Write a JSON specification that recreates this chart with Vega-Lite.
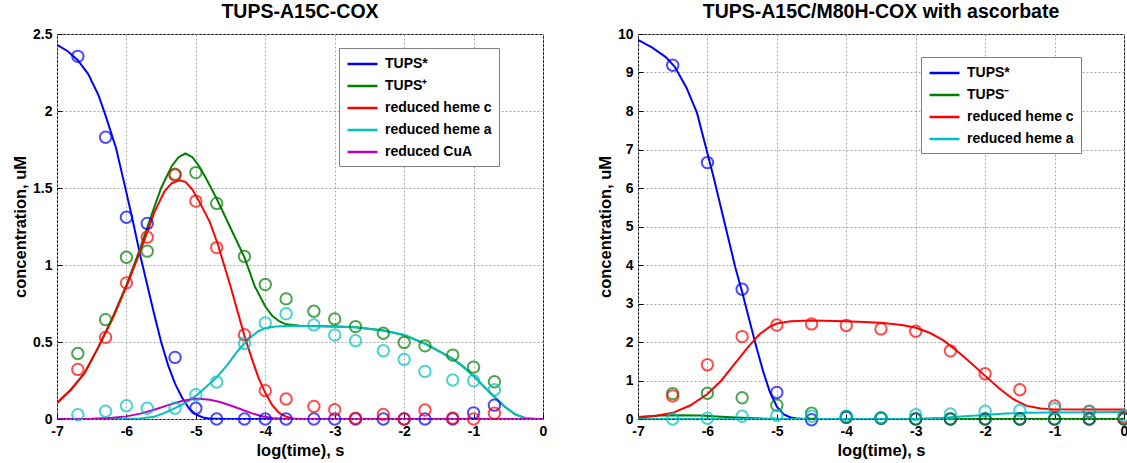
{
  "$schema": "https://vega.github.io/schema/vega-lite/v6.json",
  "background": "white",
  "padding": {"left": 12, "top": 1, "right": 0, "bottom": 0},
  "spacing": 48,
  "config": {
    "font": "Liberation Sans",
    "view": {"stroke": "black", "strokeWidth": 1},
    "axis": {
      "labelFont": "Liberation Sans", "labelFontWeight": "bold", "labelFontSize": 14, "labelColor": "black",
      "titleFont": "Liberation Sans", "titleFontWeight": "bold", "titleFontSize": 16.5, "titleColor": "black",
      "grid": true, "gridDash": [2, 2], "gridColor": "#a8a8a8", "gridWidth": 1,
      "domain": false, "ticks": true, "tickSize": -5, "tickColor": "black", "labelPadding": 10, "titlePadding": 4, "labelFlush": false, "labelOverlap": false
    },
    "title": {"font": "Liberation Sans", "fontSize": 19.5, "fontWeight": "bold", "color": "black", "offset": 5},
    "legend": {
      "orient": "none", "title": null, "symbolType": "M-1,0H3", "symbolStrokeWidth": 2.5, "symbolSize": 225,
      "labelFont": "Liberation Sans", "labelFontSize": 14, "labelFontWeight": "bold", "labelColor": "black",
      "strokeColor": "#808080", "fillColor": "white", "padding": 7, "rowPadding": 6, "labelOffset": 21
    }
  },
  "resolve": {"scale": {"color": "independent", "stroke": "independent"}, "legend": {"color": "independent"}},
  "datasets": {
    "lc": [
      {"x": -7, "y": 2.43, "s": "TUPS*"}, {"x": -6.85, "y": 2.39, "s": "TUPS*"}, {"x": -6.7, "y": 2.33, "s": "TUPS*"}, {"x": -6.55, "y": 2.24, "s": "TUPS*"}, {"x": -6.4, "y": 2.1, "s": "TUPS*"}, {"x": -6.3, "y": 1.97, "s": "TUPS*"}, {"x": -6.15, "y": 1.76, "s": "TUPS*"}, {"x": -6.0, "y": 1.47, "s": "TUPS*"}, {"x": -5.9, "y": 1.27, "s": "TUPS*"}, {"x": -5.8, "y": 1.06, "s": "TUPS*"}, {"x": -5.7, "y": 0.87, "s": "TUPS*"}, {"x": -5.6, "y": 0.68, "s": "TUPS*"}, {"x": -5.5, "y": 0.5, "s": "TUPS*"}, {"x": -5.4, "y": 0.35, "s": "TUPS*"}, {"x": -5.3, "y": 0.23, "s": "TUPS*"}, {"x": -5.2, "y": 0.14, "s": "TUPS*"}, {"x": -5.1, "y": 0.07, "s": "TUPS*"}, {"x": -5.0, "y": 0.03, "s": "TUPS*"}, {"x": -4.9, "y": 0.01, "s": "TUPS*"}, {"x": -4.8, "y": 0.003, "s": "TUPS*"}, {"x": -4.6, "y": 0, "s": "TUPS*"}, {"x": 0, "y": 0, "s": "TUPS*"},
      {"x": -7, "y": 0.104, "s": "TUPS⁺"}, {"x": -6.8, "y": 0.19, "s": "TUPS⁺"}, {"x": -6.6, "y": 0.3, "s": "TUPS⁺"}, {"x": -6.4, "y": 0.47, "s": "TUPS⁺"}, {"x": -6.2, "y": 0.66, "s": "TUPS⁺"}, {"x": -6.0, "y": 0.87, "s": "TUPS⁺"}, {"x": -5.8, "y": 1.11, "s": "TUPS⁺"}, {"x": -5.65, "y": 1.31, "s": "TUPS⁺"}, {"x": -5.5, "y": 1.5, "s": "TUPS⁺"}, {"x": -5.35, "y": 1.64, "s": "TUPS⁺"}, {"x": -5.25, "y": 1.7, "s": "TUPS⁺"}, {"x": -5.15, "y": 1.724, "s": "TUPS⁺"}, {"x": -5.05, "y": 1.7, "s": "TUPS⁺"}, {"x": -4.95, "y": 1.64, "s": "TUPS⁺"}, {"x": -4.85, "y": 1.56, "s": "TUPS⁺"}, {"x": -4.7, "y": 1.43, "s": "TUPS⁺"}, {"x": -4.5, "y": 1.24, "s": "TUPS⁺"}, {"x": -4.3, "y": 1.05, "s": "TUPS⁺"}, {"x": -4.15, "y": 0.86, "s": "TUPS⁺"}, {"x": -4.0, "y": 0.73, "s": "TUPS⁺"}, {"x": -3.9, "y": 0.67, "s": "TUPS⁺"}, {"x": -3.8, "y": 0.635, "s": "TUPS⁺"}, {"x": -3.7, "y": 0.615, "s": "TUPS⁺"}, {"x": -3.5, "y": 0.605, "s": "TUPS⁺"}, {"x": -3.0, "y": 0.6, "s": "TUPS⁺"}, {"x": -2.7, "y": 0.595, "s": "TUPS⁺"}, {"x": -2.3, "y": 0.575, "s": "TUPS⁺"}, {"x": -2.0, "y": 0.545, "s": "TUPS⁺"}, {"x": -1.7, "y": 0.49, "s": "TUPS⁺"}, {"x": -1.5, "y": 0.44, "s": "TUPS⁺"}, {"x": -1.3, "y": 0.39, "s": "TUPS⁺"}, {"x": -1.15, "y": 0.34, "s": "TUPS⁺"}, {"x": -1.0, "y": 0.28, "s": "TUPS⁺"}, {"x": -0.85, "y": 0.21, "s": "TUPS⁺"}, {"x": -0.7, "y": 0.145, "s": "TUPS⁺"}, {"x": -0.55, "y": 0.08, "s": "TUPS⁺"}, {"x": -0.4, "y": 0.03, "s": "TUPS⁺"}, {"x": -0.25, "y": 0.005, "s": "TUPS⁺"}, {"x": -0.1, "y": 0, "s": "TUPS⁺"}, {"x": 0, "y": 0, "s": "TUPS⁺"},
      {"x": -7, "y": 0.104, "s": "reduced heme c"}, {"x": -6.8, "y": 0.19, "s": "reduced heme c"}, {"x": -6.6, "y": 0.3, "s": "reduced heme c"}, {"x": -6.4, "y": 0.47, "s": "reduced heme c"}, {"x": -6.2, "y": 0.65, "s": "reduced heme c"}, {"x": -6.0, "y": 0.86, "s": "reduced heme c"}, {"x": -5.8, "y": 1.09, "s": "reduced heme c"}, {"x": -5.6, "y": 1.34, "s": "reduced heme c"}, {"x": -5.45, "y": 1.48, "s": "reduced heme c"}, {"x": -5.35, "y": 1.53, "s": "reduced heme c"}, {"x": -5.24, "y": 1.55, "s": "reduced heme c"}, {"x": -5.15, "y": 1.54, "s": "reduced heme c"}, {"x": -5.05, "y": 1.49, "s": "reduced heme c"}, {"x": -4.95, "y": 1.41, "s": "reduced heme c"}, {"x": -4.8, "y": 1.28, "s": "reduced heme c"}, {"x": -4.68, "y": 1.13, "s": "reduced heme c"}, {"x": -4.5, "y": 0.86, "s": "reduced heme c"}, {"x": -4.3, "y": 0.54, "s": "reduced heme c"}, {"x": -4.2, "y": 0.4, "s": "reduced heme c"}, {"x": -4.1, "y": 0.27, "s": "reduced heme c"}, {"x": -4.0, "y": 0.17, "s": "reduced heme c"}, {"x": -3.9, "y": 0.09, "s": "reduced heme c"}, {"x": -3.8, "y": 0.04, "s": "reduced heme c"}, {"x": -3.7, "y": 0.015, "s": "reduced heme c"}, {"x": -3.6, "y": 0.003, "s": "reduced heme c"}, {"x": -3.5, "y": 0, "s": "reduced heme c"}, {"x": 0, "y": 0, "s": "reduced heme c"},
      {"x": -7, "y": 0, "s": "reduced heme a"}, {"x": -6.0, "y": 0, "s": "reduced heme a"}, {"x": -5.8, "y": 0.003, "s": "reduced heme a"}, {"x": -5.6, "y": 0.015, "s": "reduced heme a"}, {"x": -5.45, "y": 0.04, "s": "reduced heme a"}, {"x": -5.3, "y": 0.07, "s": "reduced heme a"}, {"x": -5.15, "y": 0.105, "s": "reduced heme a"}, {"x": -5.0, "y": 0.15, "s": "reduced heme a"}, {"x": -4.85, "y": 0.21, "s": "reduced heme a"}, {"x": -4.7, "y": 0.27, "s": "reduced heme a"}, {"x": -4.55, "y": 0.35, "s": "reduced heme a"}, {"x": -4.4, "y": 0.44, "s": "reduced heme a"}, {"x": -4.3, "y": 0.49, "s": "reduced heme a"}, {"x": -4.2, "y": 0.535, "s": "reduced heme a"}, {"x": -4.1, "y": 0.57, "s": "reduced heme a"}, {"x": -4.0, "y": 0.59, "s": "reduced heme a"}, {"x": -3.85, "y": 0.6, "s": "reduced heme a"}, {"x": -3.6, "y": 0.605, "s": "reduced heme a"}, {"x": -3.0, "y": 0.6, "s": "reduced heme a"}, {"x": -2.7, "y": 0.595, "s": "reduced heme a"}, {"x": -2.3, "y": 0.575, "s": "reduced heme a"}, {"x": -2.0, "y": 0.545, "s": "reduced heme a"}, {"x": -1.7, "y": 0.49, "s": "reduced heme a"}, {"x": -1.5, "y": 0.44, "s": "reduced heme a"}, {"x": -1.3, "y": 0.39, "s": "reduced heme a"}, {"x": -1.15, "y": 0.34, "s": "reduced heme a"}, {"x": -1.0, "y": 0.28, "s": "reduced heme a"}, {"x": -0.85, "y": 0.21, "s": "reduced heme a"}, {"x": -0.7, "y": 0.145, "s": "reduced heme a"}, {"x": -0.55, "y": 0.08, "s": "reduced heme a"}, {"x": -0.4, "y": 0.03, "s": "reduced heme a"}, {"x": -0.25, "y": 0.005, "s": "reduced heme a"}, {"x": -0.1, "y": 0, "s": "reduced heme a"}, {"x": 0, "y": 0, "s": "reduced heme a"},
      {"x": -7, "y": 0, "s": "reduced CuA"}, {"x": -6.5, "y": 0.002, "s": "reduced CuA"}, {"x": -6.2, "y": 0.008, "s": "reduced CuA"}, {"x": -6.0, "y": 0.017, "s": "reduced CuA"}, {"x": -5.8, "y": 0.035, "s": "reduced CuA"}, {"x": -5.6, "y": 0.06, "s": "reduced CuA"}, {"x": -5.4, "y": 0.09, "s": "reduced CuA"}, {"x": -5.2, "y": 0.117, "s": "reduced CuA"}, {"x": -5.05, "y": 0.13, "s": "reduced CuA"}, {"x": -4.95, "y": 0.132, "s": "reduced CuA"}, {"x": -4.8, "y": 0.125, "s": "reduced CuA"}, {"x": -4.65, "y": 0.11, "s": "reduced CuA"}, {"x": -4.5, "y": 0.088, "s": "reduced CuA"}, {"x": -4.35, "y": 0.063, "s": "reduced CuA"}, {"x": -4.2, "y": 0.038, "s": "reduced CuA"}, {"x": -4.05, "y": 0.018, "s": "reduced CuA"}, {"x": -3.9, "y": 0.006, "s": "reduced CuA"}, {"x": -3.75, "y": 0.001, "s": "reduced CuA"}, {"x": -3.6, "y": 0, "s": "reduced CuA"}, {"x": 0, "y": 0, "s": "reduced CuA"}
    ],
    "lp": [
      {"x": -6.7, "y": 2.355, "s": "TUPS*"}, {"x": -6.3, "y": 1.83, "s": "TUPS*"}, {"x": -6.0, "y": 1.31, "s": "TUPS*"}, {"x": -5.7, "y": 1.27, "s": "TUPS*"}, {"x": -5.3, "y": 0.4, "s": "TUPS*"}, {"x": -5.0, "y": 0.07, "s": "TUPS*"}, {"x": -4.7, "y": 0, "s": "TUPS*"}, {"x": -4.3, "y": 0, "s": "TUPS*"}, {"x": -4.0, "y": 0, "s": "TUPS*"}, {"x": -3.7, "y": 0, "s": "TUPS*"}, {"x": -3.3, "y": 0, "s": "TUPS*"}, {"x": -3.0, "y": 0, "s": "TUPS*"}, {"x": -2.7, "y": 0, "s": "TUPS*"}, {"x": -2.3, "y": 0, "s": "TUPS*"}, {"x": -2.0, "y": 0, "s": "TUPS*"}, {"x": -1.7, "y": 0, "s": "TUPS*"}, {"x": -1.3, "y": 0, "s": "TUPS*"}, {"x": -1.0, "y": 0.04, "s": "TUPS*"}, {"x": -0.7, "y": 0.09, "s": "TUPS*"},
      {"x": -6.7, "y": 0.425, "s": "TUPS⁺"}, {"x": -6.3, "y": 0.645, "s": "TUPS⁺"}, {"x": -6.0, "y": 1.05, "s": "TUPS⁺"}, {"x": -5.7, "y": 1.09, "s": "TUPS⁺"}, {"x": -5.3, "y": 1.59, "s": "TUPS⁺"}, {"x": -5.0, "y": 1.6, "s": "TUPS⁺"}, {"x": -4.7, "y": 1.4, "s": "TUPS⁺"}, {"x": -4.3, "y": 1.055, "s": "TUPS⁺"}, {"x": -4.0, "y": 0.873, "s": "TUPS⁺"}, {"x": -3.7, "y": 0.78, "s": "TUPS⁺"}, {"x": -3.3, "y": 0.7, "s": "TUPS⁺"}, {"x": -3.0, "y": 0.65, "s": "TUPS⁺"}, {"x": -2.7, "y": 0.6, "s": "TUPS⁺"}, {"x": -2.3, "y": 0.557, "s": "TUPS⁺"}, {"x": -2.0, "y": 0.497, "s": "TUPS⁺"}, {"x": -1.7, "y": 0.475, "s": "TUPS⁺"}, {"x": -1.3, "y": 0.415, "s": "TUPS⁺"}, {"x": -1.0, "y": 0.337, "s": "TUPS⁺"}, {"x": -0.7, "y": 0.242, "s": "TUPS⁺"},
      {"x": -6.7, "y": 0.322, "s": "reduced heme c"}, {"x": -6.3, "y": 0.53, "s": "reduced heme c"}, {"x": -6.0, "y": 0.884, "s": "reduced heme c"}, {"x": -5.7, "y": 1.18, "s": "reduced heme c"}, {"x": -5.3, "y": 1.584, "s": "reduced heme c"}, {"x": -5.0, "y": 1.415, "s": "reduced heme c"}, {"x": -4.7, "y": 1.113, "s": "reduced heme c"}, {"x": -4.3, "y": 0.547, "s": "reduced heme c"}, {"x": -4.0, "y": 0.184, "s": "reduced heme c"}, {"x": -3.7, "y": 0.13, "s": "reduced heme c"}, {"x": -3.3, "y": 0.082, "s": "reduced heme c"}, {"x": -3.0, "y": 0.06, "s": "reduced heme c"}, {"x": -2.7, "y": 0.005, "s": "reduced heme c"}, {"x": -2.3, "y": 0.03, "s": "reduced heme c"}, {"x": -2.0, "y": 0, "s": "reduced heme c"}, {"x": -1.7, "y": 0.058, "s": "reduced heme c"}, {"x": -1.3, "y": 0.006, "s": "reduced heme c"}, {"x": -1.0, "y": 0, "s": "reduced heme c"}, {"x": -0.7, "y": 0.037, "s": "reduced heme c"},
      {"x": -6.7, "y": 0.028, "s": "reduced heme a"}, {"x": -6.3, "y": 0.05, "s": "reduced heme a"}, {"x": -6.0, "y": 0.086, "s": "reduced heme a"}, {"x": -5.7, "y": 0.07, "s": "reduced heme a"}, {"x": -5.3, "y": 0.07, "s": "reduced heme a"}, {"x": -5.0, "y": 0.158, "s": "reduced heme a"}, {"x": -4.7, "y": 0.24, "s": "reduced heme a"}, {"x": -4.3, "y": 0.49, "s": "reduced heme a"}, {"x": -4.0, "y": 0.624, "s": "reduced heme a"}, {"x": -3.7, "y": 0.683, "s": "reduced heme a"}, {"x": -3.3, "y": 0.611, "s": "reduced heme a"}, {"x": -3.0, "y": 0.545, "s": "reduced heme a"}, {"x": -2.7, "y": 0.508, "s": "reduced heme a"}, {"x": -2.3, "y": 0.443, "s": "reduced heme a"}, {"x": -2.0, "y": 0.387, "s": "reduced heme a"}, {"x": -1.7, "y": 0.309, "s": "reduced heme a"}, {"x": -1.3, "y": 0.253, "s": "reduced heme a"}, {"x": -1.0, "y": 0.248, "s": "reduced heme a"}, {"x": -0.7, "y": 0.19, "s": "reduced heme a"}
    ],
    "rc": [
      {"x": -7, "y": 9.85, "s": "TUPS*"}, {"x": -6.8, "y": 9.65, "s": "TUPS*"}, {"x": -6.6, "y": 9.4, "s": "TUPS*"}, {"x": -6.47, "y": 9.15, "s": "TUPS*"}, {"x": -6.3, "y": 8.6, "s": "TUPS*"}, {"x": -6.15, "y": 7.95, "s": "TUPS*"}, {"x": -6.0, "y": 6.9, "s": "TUPS*"}, {"x": -5.9, "y": 6.2, "s": "TUPS*"}, {"x": -5.8, "y": 5.45, "s": "TUPS*"}, {"x": -5.7, "y": 4.7, "s": "TUPS*"}, {"x": -5.6, "y": 3.95, "s": "TUPS*"}, {"x": -5.5, "y": 3.3, "s": "TUPS*"}, {"x": -5.4, "y": 2.6, "s": "TUPS*"}, {"x": -5.3, "y": 1.9, "s": "TUPS*"}, {"x": -5.2, "y": 1.25, "s": "TUPS*"}, {"x": -5.1, "y": 0.7, "s": "TUPS*"}, {"x": -5.0, "y": 0.32, "s": "TUPS*"}, {"x": -4.9, "y": 0.12, "s": "TUPS*"}, {"x": -4.8, "y": 0.04, "s": "TUPS*"}, {"x": -4.7, "y": 0.01, "s": "TUPS*"}, {"x": -4.6, "y": 0, "s": "TUPS*"}, {"x": 0, "y": 0, "s": "TUPS*"},
      {"x": -7, "y": 0.05, "s": "TUPS⁻"}, {"x": -6.7, "y": 0.09, "s": "TUPS⁻"}, {"x": -6.4, "y": 0.1, "s": "TUPS⁻"}, {"x": -6.1, "y": 0.09, "s": "TUPS⁻"}, {"x": -5.8, "y": 0.06, "s": "TUPS⁻"}, {"x": -5.5, "y": 0.03, "s": "TUPS⁻"}, {"x": -5.2, "y": 0.01, "s": "TUPS⁻"}, {"x": -4.9, "y": 0.002, "s": "TUPS⁻"}, {"x": -4.6, "y": 0, "s": "TUPS⁻"}, {"x": 0, "y": 0, "s": "TUPS⁻"},
      {"x": -7, "y": 0.04, "s": "reduced heme c"}, {"x": -6.75, "y": 0.08, "s": "reduced heme c"}, {"x": -6.5, "y": 0.16, "s": "reduced heme c"}, {"x": -6.25, "y": 0.35, "s": "reduced heme c"}, {"x": -6.0, "y": 0.65, "s": "reduced heme c"}, {"x": -5.8, "y": 1.0, "s": "reduced heme c"}, {"x": -5.6, "y": 1.45, "s": "reduced heme c"}, {"x": -5.4, "y": 1.9, "s": "reduced heme c"}, {"x": -5.25, "y": 2.2, "s": "reduced heme c"}, {"x": -5.1, "y": 2.4, "s": "reduced heme c"}, {"x": -5.0, "y": 2.48, "s": "reduced heme c"}, {"x": -4.8, "y": 2.54, "s": "reduced heme c"}, {"x": -4.5, "y": 2.56, "s": "reduced heme c"}, {"x": -4.0, "y": 2.54, "s": "reduced heme c"}, {"x": -3.5, "y": 2.5, "s": "reduced heme c"}, {"x": -3.2, "y": 2.44, "s": "reduced heme c"}, {"x": -3.0, "y": 2.37, "s": "reduced heme c"}, {"x": -2.8, "y": 2.24, "s": "reduced heme c"}, {"x": -2.6, "y": 2.04, "s": "reduced heme c"}, {"x": -2.4, "y": 1.76, "s": "reduced heme c"}, {"x": -2.2, "y": 1.45, "s": "reduced heme c"}, {"x": -2.0, "y": 1.12, "s": "reduced heme c"}, {"x": -1.8, "y": 0.8, "s": "reduced heme c"}, {"x": -1.6, "y": 0.52, "s": "reduced heme c"}, {"x": -1.4, "y": 0.34, "s": "reduced heme c"}, {"x": -1.2, "y": 0.27, "s": "reduced heme c"}, {"x": -1.0, "y": 0.25, "s": "reduced heme c"}, {"x": -0.5, "y": 0.245, "s": "reduced heme c"}, {"x": 0, "y": 0.245, "s": "reduced heme c"},
      {"x": -7, "y": 0, "s": "reduced heme a"}, {"x": -3.5, "y": 0, "s": "reduced heme a"}, {"x": -3.0, "y": 0.005, "s": "reduced heme a"}, {"x": -2.6, "y": 0.03, "s": "reduced heme a"}, {"x": -2.3, "y": 0.07, "s": "reduced heme a"}, {"x": -2.0, "y": 0.105, "s": "reduced heme a"}, {"x": -1.7, "y": 0.14, "s": "reduced heme a"}, {"x": -1.4, "y": 0.16, "s": "reduced heme a"}, {"x": -1.0, "y": 0.172, "s": "reduced heme a"}, {"x": -0.5, "y": 0.178, "s": "reduced heme a"}, {"x": 0, "y": 0.18, "s": "reduced heme a"}
    ],
    "rp": [
      {"x": -6.5, "y": 9.19, "s": "TUPS*"}, {"x": -6.0, "y": 6.66, "s": "TUPS*"}, {"x": -5.5, "y": 3.37, "s": "TUPS*"}, {"x": -5.0, "y": 0.69, "s": "TUPS*"}, {"x": -4.5, "y": -0.02, "s": "TUPS*"}, {"x": -4.0, "y": 0.04, "s": "TUPS*"}, {"x": -3.5, "y": 0.02, "s": "TUPS*"}, {"x": -3.0, "y": 0, "s": "TUPS*"}, {"x": -2.5, "y": 0, "s": "TUPS*"}, {"x": -2.0, "y": 0, "s": "TUPS*"}, {"x": -1.5, "y": 0, "s": "TUPS*"}, {"x": -1.0, "y": 0, "s": "TUPS*"}, {"x": -0.5, "y": 0, "s": "TUPS*"}, {"x": 0, "y": 0, "s": "TUPS*"},
      {"x": -6.5, "y": 0.66, "s": "TUPS⁻"}, {"x": -6.0, "y": 0.67, "s": "TUPS⁻"}, {"x": -5.5, "y": 0.55, "s": "TUPS⁻"}, {"x": -5.0, "y": 0.36, "s": "TUPS⁻"}, {"x": -4.5, "y": 0.15, "s": "TUPS⁻"}, {"x": -4.0, "y": 0.06, "s": "TUPS⁻"}, {"x": -3.5, "y": 0.02, "s": "TUPS⁻"}, {"x": -3.0, "y": 0, "s": "TUPS⁻"}, {"x": -2.5, "y": 0, "s": "TUPS⁻"}, {"x": -2.0, "y": 0, "s": "TUPS⁻"}, {"x": -1.5, "y": 0, "s": "TUPS⁻"}, {"x": -1.0, "y": 0, "s": "TUPS⁻"}, {"x": -0.5, "y": 0, "s": "TUPS⁻"}, {"x": 0, "y": 0, "s": "TUPS⁻"},
      {"x": -6.5, "y": 0.6, "s": "reduced heme c"}, {"x": -6.0, "y": 1.41, "s": "reduced heme c"}, {"x": -5.5, "y": 2.14, "s": "reduced heme c"}, {"x": -5.0, "y": 2.44, "s": "reduced heme c"}, {"x": -4.5, "y": 2.47, "s": "reduced heme c"}, {"x": -4.0, "y": 2.43, "s": "reduced heme c"}, {"x": -3.5, "y": 2.34, "s": "reduced heme c"}, {"x": -3.0, "y": 2.28, "s": "reduced heme c"}, {"x": -2.5, "y": 1.77, "s": "reduced heme c"}, {"x": -2.0, "y": 1.175, "s": "reduced heme c"}, {"x": -1.5, "y": 0.76, "s": "reduced heme c"}, {"x": -1.0, "y": 0.34, "s": "reduced heme c"}, {"x": -0.5, "y": 0.2, "s": "reduced heme c"}, {"x": 0, "y": 0.05, "s": "reduced heme c"},
      {"x": -6.5, "y": 0, "s": "reduced heme a"}, {"x": -6.0, "y": 0.02, "s": "reduced heme a"}, {"x": -5.5, "y": 0.07, "s": "reduced heme a"}, {"x": -5.0, "y": 0.09, "s": "reduced heme a"}, {"x": -4.5, "y": 0.07, "s": "reduced heme a"}, {"x": -4.0, "y": 0.08, "s": "reduced heme a"}, {"x": -3.5, "y": 0.04, "s": "reduced heme a"}, {"x": -3.0, "y": 0.11, "s": "reduced heme a"}, {"x": -2.5, "y": 0.13, "s": "reduced heme a"}, {"x": -2.0, "y": 0.2, "s": "reduced heme a"}, {"x": -1.5, "y": 0.22, "s": "reduced heme a"}, {"x": -1.0, "y": 0.27, "s": "reduced heme a"}, {"x": -0.5, "y": 0.19, "s": "reduced heme a"}, {"x": 0, "y": 0.09, "s": "reduced heme a"}
    ]
  },
  "hconcat": [
    {
      "title": "TUPS-A15C-COX",
      "width": 486, "height": 385,
      "encoding": {
        "x": {"field": "x", "type": "quantitative", "scale": {"domain": [-7, 0], "nice": false},
              "axis": {"title": "log(time), s", "values": [-7, -6, -5, -4, -3, -2, -1, 0], "labelExpr": "'' + datum.value"}},
        "y": {"field": "y", "type": "quantitative", "scale": {"domain": [0, 2.5], "nice": false},
              "axis": {"title": "concentration, uM", "values": [0, 0.5, 1, 1.5, 2, 2.5], "labelExpr": "'' + datum.value"}}
      },
      "layer": [
        {
          "data": {"name": "lc"},
          "mark": {"type": "line", "strokeWidth": 2, "clip": true},
          "encoding": {
            "color": {"field": "s", "type": "nominal",
                      "scale": {"domain": ["TUPS*", "TUPS⁺", "reduced heme c", "reduced heme a", "reduced CuA"], "range": ["#0000ff", "#008000", "#ff0000", "#00bfbf", "#bf00bf"]},
                      "legend": {"legendX": 282, "legendY": 14}}
          }
        },
        {
          "data": {"name": "lp"},
          "mark": {"type": "point", "shape": "circle", "filled": false, "size": 130, "strokeWidth": 2, "clip": false},
          "encoding": {
            "stroke": {"field": "s", "type": "nominal",
                       "scale": {"domain": ["TUPS*", "TUPS⁺", "reduced heme c", "reduced heme a", "reduced CuA"], "range": ["#0000ff", "#008000", "#ff0000", "#00bfbf", "#bf00bf"]},
                       "legend": null}
          }
        }
      ]
    },
    {
      "title": "TUPS-A15C/M80H-COX with ascorbate",
      "width": 486, "height": 385,
      "encoding": {
        "x": {"field": "x", "type": "quantitative", "scale": {"domain": [-7, 0], "nice": false},
              "axis": {"title": "log(time), s", "values": [-7, -6, -5, -4, -3, -2, -1, 0], "labelExpr": "'' + datum.value"}},
        "y": {"field": "y", "type": "quantitative", "scale": {"domain": [0, 10], "nice": false},
              "axis": {"title": "concentration, uM", "values": [0, 1, 2, 3, 4, 5, 6, 7, 8, 9, 10], "labelExpr": "'' + datum.value"}}
      },
      "layer": [
        {
          "data": {"name": "rc"},
          "mark": {"type": "line", "strokeWidth": 2, "clip": true},
          "encoding": {
            "color": {"field": "s", "type": "nominal",
                      "scale": {"domain": ["TUPS*", "TUPS⁻", "reduced heme c", "reduced heme a"], "range": ["#0000ff", "#008000", "#ff0000", "#00bfbf"]},
                      "legend": {"legendX": 283, "legendY": 23}}
          }
        },
        {
          "data": {"name": "rp"},
          "mark": {"type": "point", "shape": "circle", "filled": false, "size": 130, "strokeWidth": 2, "clip": false},
          "encoding": {
            "stroke": {"field": "s", "type": "nominal",
                       "scale": {"domain": ["TUPS*", "TUPS⁻", "reduced heme c", "reduced heme a"], "range": ["#0000ff", "#008000", "#ff0000", "#00bfbf"]},
                       "legend": null}
          }
        }
      ]
    }
  ]
}
